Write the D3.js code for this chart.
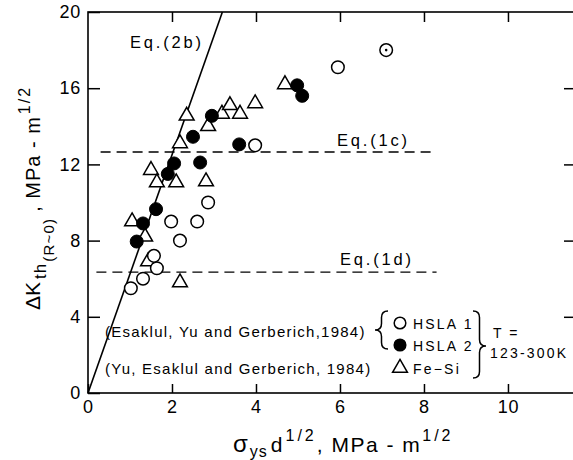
<!DOCTYPE html>
<html>
<head>
<meta charset="utf-8">
<script src="https://cdn.jsdelivr.net/npm/d3@7"></script>
<style>
  body { margin: 0; background: #fff; }
  svg { display: block; font-family: "Liberation Sans", Arial, sans-serif; }
</style>
</head>
<body>
<svg id="chart" width="573" height="460"></svg>
<script>
// data: [sigma_ys d^1/2, dK_th]
const hsla1 = [[1.02,5.5],[1.31,6.0],[1.64,6.55],[1.57,7.2],[2.19,8.0],[1.98,9.0],[2.6,9.0],[2.86,10.0],[3.98,13.0],[5.95,17.1]];
const hsla1Dotted = [[7.1,18.0]];
const hsla2 = [[1.16,7.95],[1.31,8.9],[1.62,9.65],[1.9,11.5],[2.05,12.05],[2.67,12.1],[2.5,13.45],[2.95,14.55],[3.6,13.05],[4.98,16.15],[5.1,15.6]];
const fesi = [[1.05,9.0],[1.36,8.2],[1.43,6.9],[2.19,5.8],[1.5,11.7],[1.64,11.05],[2.1,11.05],[2.81,11.1],[2.19,13.1],[2.35,14.55],[2.86,14.0],[3.19,14.65],[3.38,15.1],[3.62,14.65],[3.98,15.2],[4.69,16.2]];

// model lines
const eq2b = [[0,0],[3.2,20]];
const eq1c = [[0.3,12.65],[8.2,12.65]];
const eq1d = [[0.2,6.35],[8.3,6.35]];

const xTicks = [0,2,4,6,8,10];
const yTicks = [0,4,8,12,16,20];

const svg = d3.select("#chart");

const x = d3.scaleLinear().domain([0, 11.62]).range([88, 576]);
const y = d3.scaleLinear().domain([0, 20]).range([393, 12]);

// frame
svg.append("rect")
  .attr("x", x(0)).attr("y", y(20))
  .attr("width", x(11.62) - x(0)).attr("height", y(0) - y(20))
  .attr("fill", "none").attr("stroke", "#000").attr("stroke-width", 1.6);

// axes, ticks pointing inward
const gBottom = svg.append("g").attr("transform", `translate(0,${y(0)})`)
  .call(d3.axisBottom(x).tickValues(xTicks).tickSize(-9).tickPadding(7).tickSizeOuter(0));
const gTop = svg.append("g").attr("transform", `translate(0,${y(20)})`)
  .call(d3.axisTop(x).tickValues(xTicks.slice(1)).tickSize(-10).tickFormat("").tickSizeOuter(0));
const gLeft = svg.append("g").attr("transform", `translate(${x(0)},0)`)
  .call(d3.axisLeft(y).tickValues(yTicks).tickSize(-12).tickPadding(7).tickSizeOuter(0));
const gRight = svg.append("g").attr("transform", `translate(${x(11.62)},0)`)
  .call(d3.axisRight(y).tickValues(yTicks.slice(1, 5)).tickSize(-12).tickFormat("").tickSizeOuter(0));

[gBottom, gTop, gLeft, gRight].forEach(g => {
  g.select(".domain").remove();
  g.selectAll(".tick line").attr("stroke", "#000").attr("stroke-width", 1.5);
  g.selectAll(".tick text").attr("font-size", 18).attr("fill", "#000").attr("letter-spacing", 0.8)
    .attr("font-family", "Liberation Sans, Arial, sans-serif");
});

// lines
const line = d3.line().x(d => x(d[0])).y(d => y(d[1]));
svg.append("path").attr("d", line(eq2b))
  .attr("stroke", "#000").attr("stroke-width", 1.6).attr("fill", "none");
[eq1c, eq1d].forEach(l => {
  svg.append("path").attr("d", line(l))
    .attr("stroke", "#000").attr("stroke-width", 1.3).attr("fill", "none")
    .attr("stroke-dasharray", "10,6");
});

// equation labels
const eqLabel = (txt, px, py) => svg.append("text")
  .attr("x", px).attr("y", py).attr("font-size", 16.5).attr("letter-spacing", 2.8)
  .text(txt);
eqLabel("Eq.(2b)", 130, 48);
eqLabel("Eq.(1c)", 337, 146);
eqLabel("Eq.(1d)", 340, 265);

// markers
const tri = d3.symbol().type(d3.symbolTriangle).size(95);
svg.append("g").selectAll("path").data(fesi).join("path")
  .attr("d", tri)
  .attr("transform", d => `translate(${x(d[0])},${y(d[1])})`)
  .attr("fill", "#fff").attr("stroke", "#000").attr("stroke-width", 1.5);

svg.append("g").selectAll("circle").data(hsla1.concat(hsla1Dotted)).join("circle")
  .attr("cx", d => x(d[0])).attr("cy", d => y(d[1])).attr("r", 6.3)
  .attr("fill", "#fff").attr("stroke", "#000").attr("stroke-width", 1.5);
svg.append("g").selectAll("circle").data(hsla1Dotted).join("circle")
  .attr("cx", d => x(d[0])).attr("cy", d => y(d[1])).attr("r", 1.3).attr("fill", "#000");

svg.append("g").selectAll("circle").data(hsla2).join("circle")
  .attr("cx", d => x(d[0])).attr("cy", d => y(d[1])).attr("r", 6.5)
  .attr("fill", "#000").attr("stroke", "#000").attr("stroke-width", 1);

// legend
const ref = (txt, px, py) => svg.append("text")
  .attr("x", px).attr("y", py).attr("font-size", 15).attr("letter-spacing", 1.25).text(txt);
ref("(Esaklul, Yu and Gerberich,1984)", 105, 337);
ref("(Yu, Esaklul and Gerberich, 1984)", 105, 374);

function brace(xt, y0, y1, w, tipY) {
  // xt: tip x, w > 0 opens right ("{"), w < 0 opens left ("}")
  const xm = xt + w / 2, xe = xt + w, ym = tipY, q = Math.abs(w) / 2;
  const p = d3.path();
  p.moveTo(xe, y0);
  p.quadraticCurveTo(xm, y0, xm, y0 + q);
  p.lineTo(xm, ym - q);
  p.quadraticCurveTo(xm, ym, xt, ym);
  p.quadraticCurveTo(xm, ym, xm, ym + q);
  p.lineTo(xm, y1 - q);
  p.quadraticCurveTo(xm, y1, xe, y1);
  return p.toString();
}
svg.append("path").attr("d", brace(375, 311, 349, 13, 330))
  .attr("fill", "none").attr("stroke", "#000").attr("stroke-width", 1.5);
svg.append("path").attr("d", brace(486, 311, 378, -13, 346))
  .attr("fill", "none").attr("stroke", "#000").attr("stroke-width", 1.5);

const legendItems = [
  {label: "HSLA 1", kind: "open", py: 323},
  {label: "HSLA 2", kind: "filled", py: 345},
  {label: "Fe\u2212Si", kind: "tri", py: 368}
];
legendItems.forEach(it => {
  if (it.kind === "tri") {
    svg.append("path").attr("d", tri).attr("transform", `translate(400,${it.py})`)
      .attr("fill", "#fff").attr("stroke", "#000").attr("stroke-width", 1.5);
  } else {
    svg.append("circle").attr("cx", 400).attr("cy", it.py).attr("r", 5.8)
      .attr("fill", it.kind === "filled" ? "#000" : "#fff")
      .attr("stroke", "#000").attr("stroke-width", 1.5);
  }
  svg.append("text").attr("x", 413).attr("y", it.py + 5.5)
    .attr("font-size", 14).attr("letter-spacing", 2.2).text(it.label);
});
svg.append("text").attr("x", 493).attr("y", 338).attr("font-size", 14).attr("letter-spacing", 2).text("T =");
svg.append("text").attr("x", 490).attr("y", 358).attr("font-size", 14).attr("letter-spacing", 2.2).text("123-300K");

// axis titles
const xt = svg.append("text").attr("x", 233).attr("y", 452).attr("font-size", 21);
xt.append("tspan").attr("font-size", 24).text("\u03c3");
xt.append("tspan").attr("dx", 2).attr("dy", 5).attr("font-size", 16).attr("letter-spacing", 1).text("ys");
xt.append("tspan").attr("dx", 3).attr("dy", -5).text("d");
xt.append("tspan").attr("dx", 3).attr("dy", -11).attr("font-size", 16).attr("letter-spacing", 3).text("1/2");
xt.append("tspan").attr("dy", 11).attr("letter-spacing", 1.5).text(",  MPa - m");
xt.append("tspan").attr("dx", 1).attr("dy", -11).attr("font-size", 16).attr("letter-spacing", 3).text("1/2");

const yt = svg.append("text").attr("transform", "translate(40,310) rotate(-90)").attr("font-size", 21);
yt.append("tspan").text("\u0394K");
yt.append("tspan").attr("dx", 3).attr("dy", 6).attr("font-size", 17).attr("letter-spacing", 1).text("th");
yt.append("tspan").attr("dx", 1).attr("dy", 8).attr("font-size", 15).attr("letter-spacing", 1.2).text("(R~0)");
yt.append("tspan").attr("dx", 6).attr("dy", -14).attr("font-size", 20).attr("letter-spacing", 1).text(",  MPa - m");
yt.append("tspan").attr("dx", 2).attr("dy", -10).attr("font-size", 16).attr("letter-spacing", 2).text("1/2");
</script>
</body>
</html>
